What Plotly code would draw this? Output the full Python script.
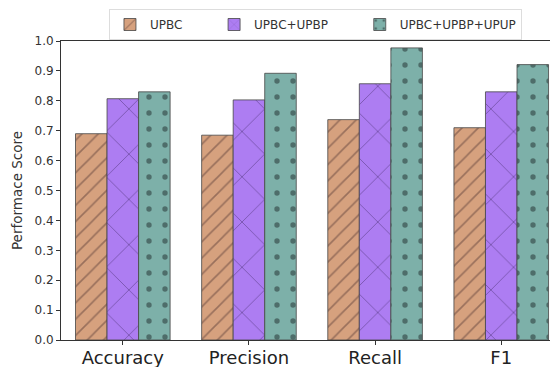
import plotly.graph_objects as go

categories = ["Accuracy", "Precision", "Recall", "F1"]
series_names = ["UPBC", "UPBC+UPBP", "UPBC+UPBP+UPUP"]
upbc = [0.69, 0.685, 0.737, 0.71]
upbc_upbp = [0.807, 0.803, 0.857, 0.83]
upbc_upbp_upup = [0.83, 0.892, 0.977, 0.921]
y_ticks = [0.0, 0.1, 0.2, 0.3, 0.4, 0.5, 0.6, 0.7, 0.8, 0.9, 1.0]

fills = ["rgb(214,161,126)", "rgb(173,125,242)", "rgb(125,176,169)"]
patterns = [
    dict(shape="/", fgcolor="rgba(70,45,45,0.85)", size=11.5, solidity=0.14),
    dict(shape="x", fgcolor="rgba(60,35,95,0.85)", size=32, solidity=0.06),
    dict(shape=".", fgcolor="rgba(25,35,35,0.95)", size=16, solidity=0.09),
]
values = [upbc, upbc_upbp, upbc_upbp_upup]
pad = "\u00a0" * 7  # extra spacing between legend entries

fig = go.Figure()
for i, (name, vals, fill, pat) in enumerate(zip(series_names, values, fills, patterns)):
    label = name + (pad if i < len(series_names) - 1 else "")
    fig.add_trace(go.Bar(
        x=categories, y=vals, name=label,
        marker=dict(color=fill, line=dict(color="rgba(70,70,70,0.8)", width=1),
                    pattern=dict(fillmode="overlay", **pat)),
    ))

# page body has an 8px margin, so the figure is shrunk by 8px to fit the window
fig.update_layout(
    width=550, height=359,
    margin=dict(l=53, r=0, t=33, b=27, autoexpand=False),
    paper_bgcolor="white", plot_bgcolor="white",
    font=dict(family="DejaVu Sans", color="#333"),
    barmode="group", bargap=0.25, bargroupgap=0,
    showlegend=True,
    legend=dict(orientation="h", x=0.512, xanchor="center", y=1.107, yanchor="top",
                bordercolor="#ddd", borderwidth=1, font=dict(size=12),
                itemwidth=30, tracegroupgap=0),
    xaxis=dict(range=[-0.49, 3.45], showline=True, linecolor="#333", linewidth=1,
               mirror=True, ticks="outside", ticklen=4, tickcolor="#333",
               tickfont=dict(size=18, color="#222"), ticklabelstandoff=-3,
               showgrid=False, automargin=False),
    yaxis=dict(range=[0, 1.0], tickvals=y_ticks, ticktext=[f"{v:.1f}" for v in y_ticks],
               showline=True, linecolor="#333", linewidth=1, ticks="outside",
               ticklen=4, tickcolor="#333", tickfont=dict(size=12, color="#333"),
               showgrid=False, zeroline=False, automargin=False,
               title=dict(text="Performace Score", font=dict(size=13.5, color="#333"), standoff=8)),
)

fig.write_html("out.html")
